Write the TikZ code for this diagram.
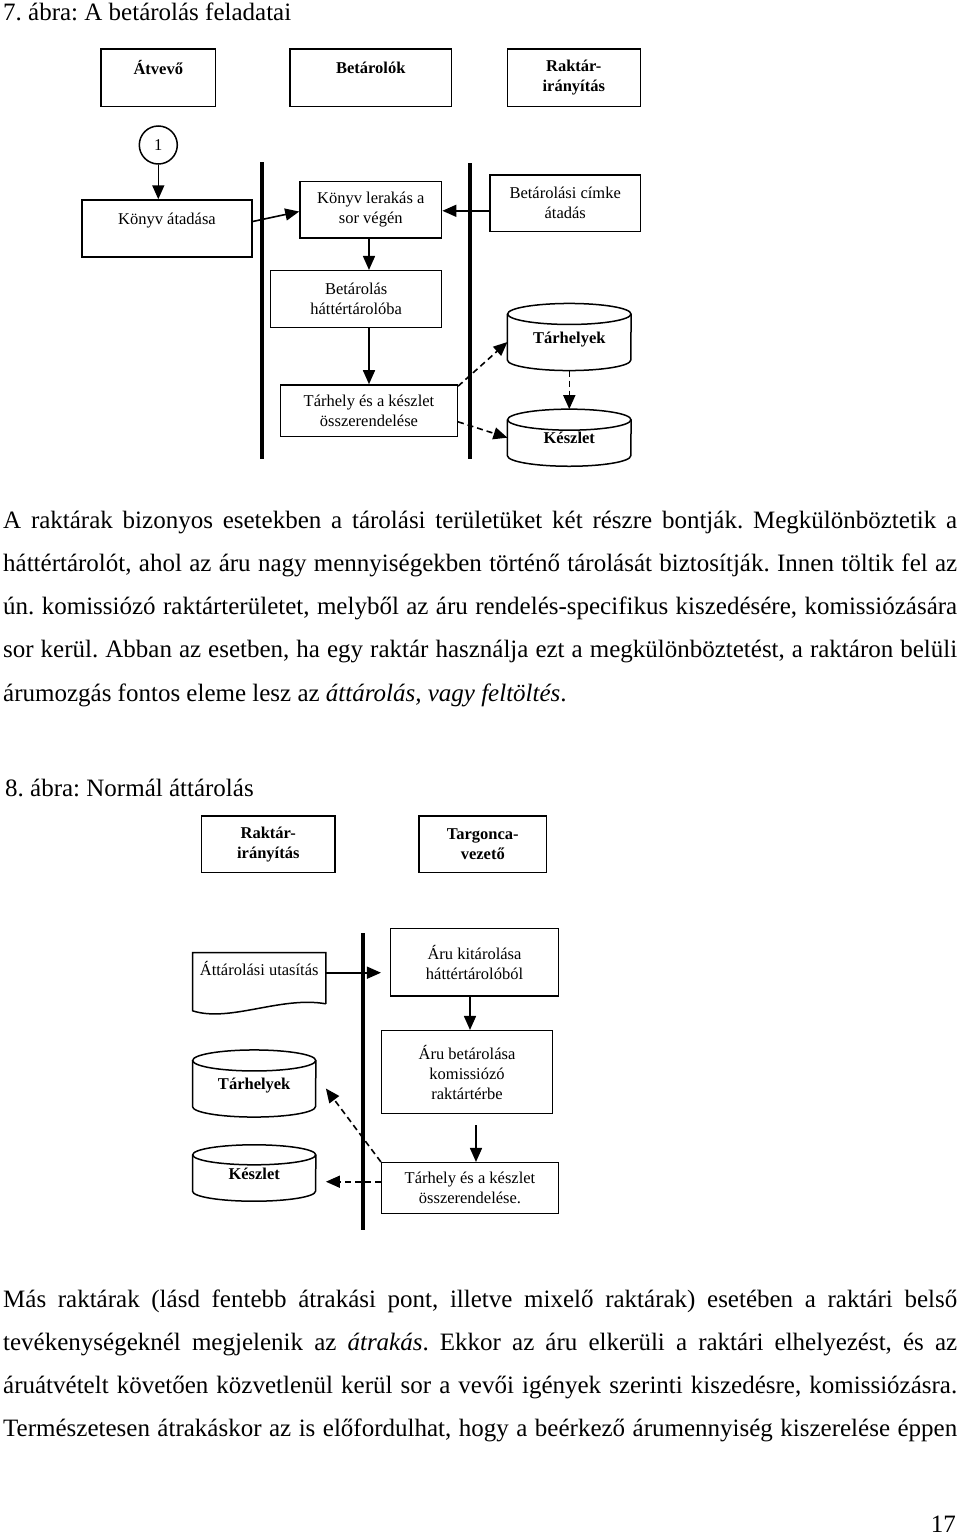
\documentclass[tikz,border=0pt]{standalone}
\usepackage{fontspec}
\setmainfont{Liberation Serif}
\usetikzlibrary{arrows.meta,calc,shapes.geometric}
\frenchspacing
\newsavebox\jb
\newcommand\jline[1]{\sbox\jb{#1}\ifdim\wd\jb>954pt\resizebox{954pt}{\ht\jb}{\usebox\jb}\else\makebox[954pt][s]{#1}\fi}
\newcommand\diagfont{\fontsize{16.5}{20}\selectfont}
\newcommand\bodyfont{\fontsize{25}{30}\selectfont}
\newcommand\drawcyl[3]{%
  \draw[cylline] ($(#1.north)+(0,#3)$) ellipse[x radius=#2pt, y radius=#3pt];
  \draw[cylline] ($(#1.north west)+(0,#3)$) -- ($(#1.south west)+(0,-#3)$) arc[start angle=180,end angle=360,x radius=#2pt,y radius=#3pt] -- ($(#1.north east)+(0,#3)$);}
\tikzset{
  box/.style={draw, line width=1.5pt, inner sep=0pt, align=center, font=\diagfont},
  cyl/.style={draw=none, inner sep=0pt, align=center, font=\diagfont\bfseries},
  cylline/.style={line width=1.5pt},
  arr/.style={line width=1.6pt, -{Triangle[length=14pt,width=12pt]}},
  darr/.style={line width=1.6pt, dash pattern=on 6pt off 4pt, -{Triangle[length=14pt,width=12pt]}},
  bar/.style={line width=4.5pt},
  body/.style={inner sep=0pt, anchor=base west, font=\bodyfont}
}
\begin{document}
\begin{tikzpicture}[x=1pt,y=-1pt]
\fill[white] (0,0) rectangle (960,1537);
\useasboundingbox (0,0) rectangle (960,1537);

% ---------- Figure 7 ----------
\node[body] (t7) at (3,20) {7. ábra: A betárolás feladatai};

\node[box, minimum width=114.7, minimum height=57.7] (atv) at (158.3,77.8) {\textbf{Átvevő}\\\mbox{}};
\node[box, minimum width=161.7, minimum height=57.7] (bet) at (370.8,77.8) {\textbf{Betárolók}\\\mbox{}};
\node[box, minimum width=133, minimum height=57.7] (rak) at (573.8,77.8) {\textbf{Raktár-}\\\textbf{irányítás}};

\node[draw, circle, line width=1.5pt, minimum size=38, inner sep=0pt, font=\diagfont] (c1) at (158.3,145) {1};

\node[box, minimum width=170, minimum height=57] (kat) at (167,228.5) {Könyv átadása\\\mbox{}};
\node[box, minimum width=141.7, minimum height=56.3] (klr) at (370.8,209.8) {Könyv lerakás a\\sor végén};
\node[box, minimum width=150.3, minimum height=56.7] (bca) at (565.2,203.3) {Betárolási címke\\átadás};
\node[box, minimum width=171, minimum height=56.6] (bh) at (356.2,299) {Betárolás\\háttértárolóba};
\node[box, minimum width=176.6, minimum height=51.7] (tk) at (369,410.8) {Tárhely és a készlet\\összerendelése};

\node[cyl, minimum width=123.3, minimum height=66.7, text height=14pt, text depth=2pt] (th) at (569.3,337) {Tárhelyek};
\drawcyl{th}{61.65}{10.5}
\node[cyl, minimum width=123.3, minimum height=56.7, text height=14pt, text depth=2pt] (kz) at (569.3,437.7) {Készlet};
\drawcyl{kz}{61.65}{10.5}

\coordinate (b1t) at (262,162); \coordinate (b1b) at (262,459);
\coordinate (b2t) at (470,163); \coordinate (b2b) at (470,459);
\draw[bar] (b1t) -- (b1b);
\draw[bar] (b2t) -- (b2b);

\draw[arr] (c1.south) -- (c1.south |- kat.north);
\draw[arr] ($(kat.north east)!0.38!(kat.south east)$) -- ($(klr.north west)!0.53!(klr.south west)$);
\coordinate (bcaL) at ($(bca.west)+(0,7.5)$);
\draw[arr] (bcaL) -- (bcaL -| klr.east);
\draw[arr] (tk.north |- klr.south) -- (tk.north |- bh.north);
\draw[arr] (tk.north |- bh.south) -- (tk.north);
\draw[darr] ($(tk.north east)+(0,2)$) -- ($(th.west)+(0,5)$);
\draw[darr] ($(tk.east)+(0,11)$) -- (kz.west);
\draw[darr] (th.south) -- (kz.north);

% ---------- Paragraph 1 ----------
\node[body] (p1a) at (3,528) {\jline{A raktárak bizonyos esetekben a tárolási területüket két részre bontják. Megkülönböztetik a}};
\node[body] (p1b) at (3,571.3) {\jline{háttértárolót, ahol az áru nagy mennyiségekben történő tárolását biztosítják. Innen töltik fel az}};
\node[body] (p1c) at (3,614.6) {\jline{ún. komissiózó raktárterületet, melyből az áru rendelés-specifikus kiszedésére, komissiózására}};
\node[body] (p1d) at (3,657.9) {\jline{sor kerül. Abban az esetben, ha egy raktár használja ezt a megkülönböztetést, a raktáron belüli}};
\node[body] (p1e) at (3,701.2) {árumozgás fontos eleme lesz az \textit{áttárolás, vagy feltöltés}.};

% ---------- Figure 8 ----------
\node[body] (t8) at (5,796) {8. ábra: Normál áttárolás};

\node[box, minimum width=133.3, minimum height=56.7] (rak2) at (268.3,844.3) {\textbf{Raktár-}\\\textbf{irányítás}};
\node[box, minimum width=127.7, minimum height=56.7] (tv) at (482.8,844.3) {\textbf{Targonca-}\\\textbf{vezető}};

\node[box, draw=none, minimum width=131.7, minimum height=49.7] (att) at (259.2,978.2) {Áttárolási utasítás\\\mbox{}};
\draw[line width=1.5pt] (att.south east) -- (att.north east) -- (att.north west) -- ($(att.south west)+(0,7)$) .. controls ($(att.south west)+(37,19)$) and ($(att.south east)+(-45,-8)$) .. (att.south east);

\node[box, minimum width=167.6, minimum height=67.7] (akh) at (474.5,962.2) {Áru kitárolása\\háttértárolóból};
\node[box, minimum width=170.6, minimum height=82.6] (abk) at (467,1072) {Áru betárolása\\komissiózó\\raktártérbe};
\node[box, minimum width=176.6, minimum height=50.6] (tk2) at (470,1188) {Tárhely és a készlet\\összerendelése.};

\node[cyl, minimum width=123, minimum height=66.7, text height=14pt, text depth=2pt] (th2) at (254.2,1083.5) {Tárhelyek};
\drawcyl{th2}{61.5}{10.5}
\node[cyl, minimum width=123, minimum height=56, text height=14pt, text depth=2pt] (kz2) at (254.2,1173) {Készlet};
\drawcyl{kz2}{61.5}{10}

\coordinate (b3t) at (363,933); \coordinate (b3b) at (363,1230);
\draw[bar] (b3t) -- (b3b);

\coordinate (attR) at ($(att.east)+(0,-5.5)$);
\draw[arr, shorten >=9pt] (attR) -- (attR -| akh.west);
\coordinate (akhB) at ($(akh.south)+(-4.5,0)$);
\draw[arr] (akhB) -- (akhB |- abk.north);
\coordinate (abkB) at ($(abk.south)+(9,0)$);
\draw[arr, shorten <=11pt] (abkB) -- (abkB |- tk2.north);
\draw[darr] (tk2.north west) -- ($(th2.east)+(10,5)$);
\coordinate (tk2L) at ($(tk2.west)+(0,-6.3)$);
\draw[darr, shorten >=10pt] (tk2L) -- (tk2L -| kz2.east);

% ---------- Paragraph 2 ----------
\node[body] (p2a) at (3,1307) {\jline{Más raktárak (lásd fentebb átrakási pont, illetve mixelő raktárak) esetében a raktári belső}};
\node[body] (p2b) at (3,1350.3) {\jline{tevékenységeknél megjelenik az \textit{átrakás}. Ekkor az áru elkerüli a raktári elhelyezést, és az}};
\node[body] (p2c) at (3,1393.6) {\jline{áruátvételt követően közvetlenül kerül sor a vevői igények szerinti kiszedésre, komissiózásra.}};
\node[body] (p2d) at (3,1436.9) {\jline{Természetesen átrakáskor az is előfordulhat, hogy a beérkező árumennyiség kiszerelése éppen}};

\node[body, anchor=base east] (pg) at (956,1532) {17};
\end{tikzpicture}
\end{document}
